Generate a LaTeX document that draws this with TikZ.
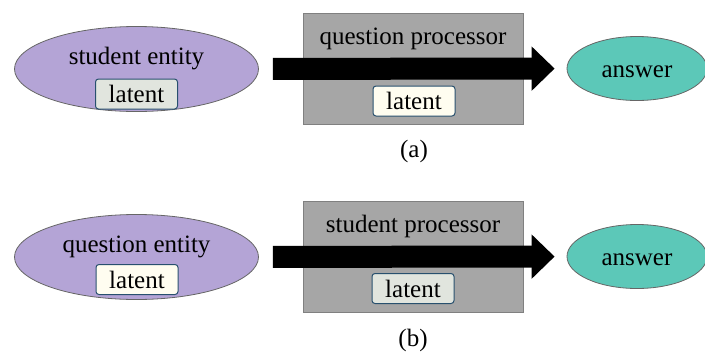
\documentclass[tikz,border=0pt]{standalone}
\usepackage{fontspec}
\setmainfont{Liberation Serif}
\definecolor{EntPurple}{RGB}{180, 164, 214}
\definecolor{AnsTeal}{RGB}{92, 200, 184}
\definecolor{ProcGrey}{RGB}{166, 166, 166}
\definecolor{LatGrey}{RGB}{225, 229, 222}
\definecolor{LatIvory}{RGB}{255, 253, 240}
\definecolor{LatEdge}{RGB}{40, 80, 110}
\usetikzlibrary{arrows.meta, positioning, shapes.geometric}

\begin{document}
\begin{tikzpicture}[x=1pt, y=-1pt,
        entity/.style={ellipse, draw=black!60, line width=0.8pt, fill=EntPurple, minimum width=244pt, minimum height=85pt, inner sep=0pt},
        answer/.style={ellipse, draw=black!60, line width=0.8pt, fill=AnsTeal, minimum width=140pt, minimum height=64pt, inner sep=0pt, text height=18pt, text depth=0pt, font=\fontsize{25}{30}\selectfont},
        proc/.style={rectangle, draw=black!50, line width=0.8pt, fill=ProcGrey, minimum width=220pt, minimum height=111pt, inner sep=0pt},
        latent/.style={rectangle, draw=LatEdge, line width=1pt, rounded corners=3pt, minimum width=82pt, minimum height=30pt, inner sep=0pt, font=\fontsize{25}{30}\selectfont},
        txt/.style={anchor=base, inner sep=0pt, font=\fontsize{25}{30}\selectfont},
        bigarrow/.style={line width=22pt, -{Triangle[length=23pt, width=43pt]}, shorten <=14pt, shorten >=12pt}
    ]
        \useasboundingbox (0,0) rectangle (705,354);

        \node[entity] (sent) at (136.5,69) {};
        \node[txt] (sentlbl) at (136.5,64) {student entity};
        \node[latent, fill=LatGrey] (sentlat) at (136.5,94) {latent};
        \node[proc] (qproc) at (413,68.5) {};
        \node[txt] (qproclbl) at (413,44) {question processor};
        \node[latent, fill=LatIvory] (qproclat) at (414,101) {latent};
        \node[answer] (ansa) at (637,68.5) {answer};
        \node[txt] (capa) at (414,157) {(a)};
        \draw[bigarrow] (sent) -- (ansa);

        \node[entity] (qent) at (136.5,257) {};
        \node[txt] (qentlbl) at (136.5,252) {question entity};
        \node[latent, fill=LatIvory] (qentlat) at (137,279.5) {latent};
        \node[proc] (sproc) at (413.5,256.5) {};
        \node[txt] (sproclbl) at (413,232) {student processor};
        \node[latent, fill=LatGrey] (sproclat) at (413,288.5) {latent};
        \node[answer] (ansb) at (637,256.5) {answer};
        \node[txt] (capb) at (413,346) {(b)};
        \draw[bigarrow] (qent) -- (ansb);
    \end{tikzpicture}
\end{document}
